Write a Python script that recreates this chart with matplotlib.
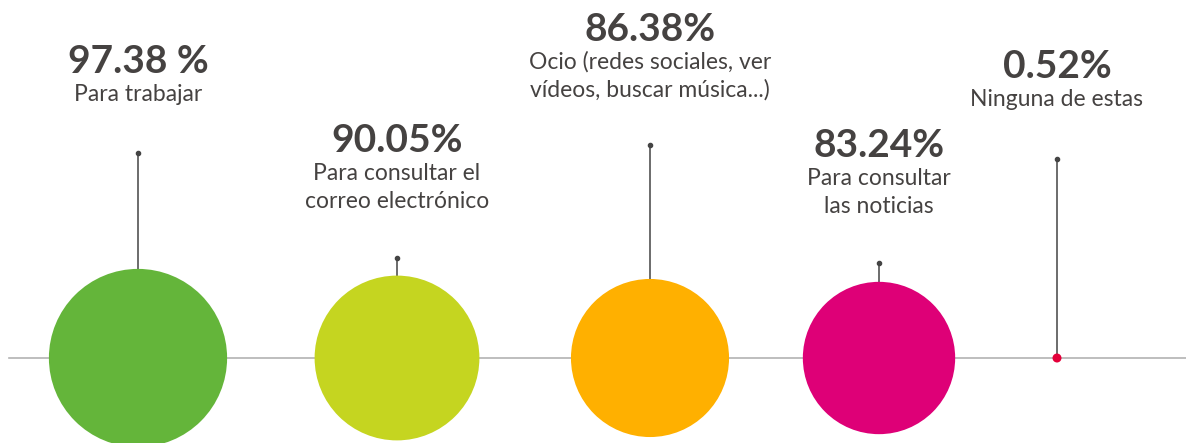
import numpy as np
import matplotlib
matplotlib.use("Agg")
import matplotlib.pyplot as plt
from matplotlib.patches import Circle

# data
values = [97.38, 90.05, 86.38, 83.24, 0.52]
pct_labels = ["97.38 %", "90.05%", "86.38%", "83.24%", "0.52%"]
labels = [["Para trabajar"],
          ["Para consultar el", "correo electrónico"],
          ["Ocio (redes sociales, ver", "vídeos, buscar música...)"],
          ["Para consultar", "las noticias"],
          ["Ninguna de estas"]]
colors = ["#64b53a", "#c5d520", "#ffb000", "#de0077", "#e4003a"]

# layout (pixel coords, y down)
W, H = 1186, 443
xpos = [138, 397, 650, 879, 1057]
base_y = 358
pct_base = [73, 152, 41, 157, 78]
stem_top = [153, 258, 145, 263, 159]
px_per_unit = 0.915
min_r = 4.5
text_col = "#454241"

plt.rcParams['font.family'] = ['Lato', 'DejaVu Sans']

fig = plt.figure(figsize=(W / 100, H / 100), dpi=100)
ax = fig.add_axes([0, 0, 1, 1])
ax.set_xlim(0, W)
ax.set_ylim(H, 0)
ax.set_aspect('equal')
ax.axis('off')

# baseline
ax.plot([9, W], [base_y, base_y], color="#b3b3b3", lw=1.2, zorder=1)

for i, v in enumerate(values):
    r = max(v * px_per_unit, min_r)
    x = xpos[i]
    ax.add_patch(Circle((x, base_y), r, facecolor=colors[i], edgecolor='none', zorder=3))
    bottom = base_y - r if r > min_r else base_y
    ax.plot([x, x], [stem_top[i], bottom], color="#444444", lw=1.1, zorder=2)
    ax.plot(x, stem_top[i], 'o', color="#444444", ms=3, zorder=2)

    ax.text(x, pct_base[i], pct_labels[i], ha='center', va='baseline',
            fontsize=28, fontweight='bold', color=text_col)
    for j, line in enumerate(labels[i]):
        ax.text(x, pct_base[i] + 28 + j * 28, line, ha='center', va='baseline',
                fontsize=16.5, color=text_col)

fig.savefig("out.png", dpi=100, facecolor='white')
